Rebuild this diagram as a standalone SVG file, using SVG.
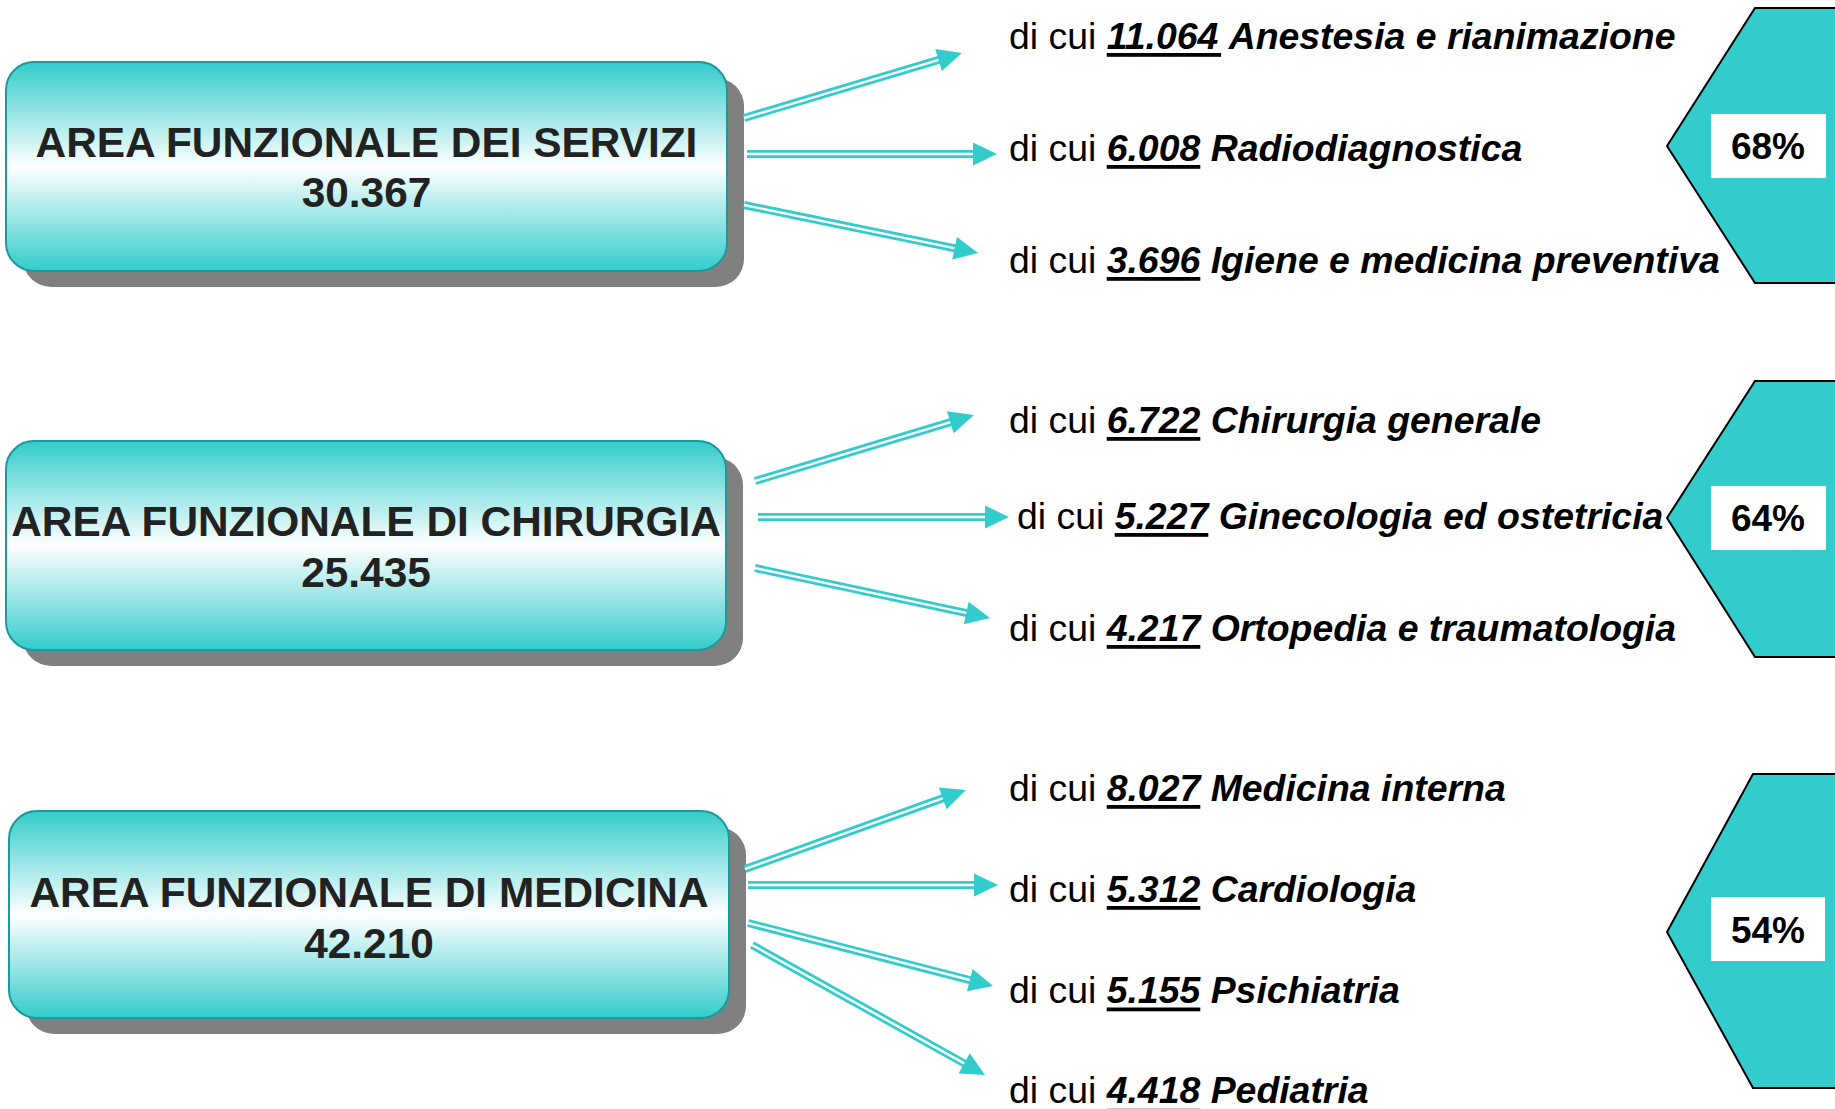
<svg xmlns="http://www.w3.org/2000/svg" width="1835" height="1109" viewBox="0 0 1835 1109">
<defs>
<linearGradient id="g" x1="0" y1="0" x2="0" y2="1">
<stop offset="0" stop-color="#33CCCC"/>
<stop offset="0.5" stop-color="#ffffff"/>
<stop offset="1" stop-color="#33CCCC"/>
</linearGradient>
</defs>
<style>
.sh{fill:#808080}
.bx{fill:url(#g);stroke:#1a9a9a;stroke-width:2}
.t{font-family:"Liberation Sans",Arial,sans-serif;font-weight:bold;font-size:42.4px;fill:#222;text-anchor:middle}
.l{font-family:"Liberation Sans",Arial,sans-serif;font-size:37.4px;fill:#000}
.n{font-weight:bold;font-style:italic}
.b{font-weight:bold;font-style:italic}
.u{fill:#000}
.hx{fill:#33CCCC;stroke:#000;stroke-width:2}
.wb{fill:#fff}
.p{font-family:"Liberation Sans",Arial,sans-serif;font-weight:bold;font-size:37px;fill:#000;text-anchor:middle}
.a1{stroke:#33CCCC;stroke-width:8;fill:none}
.a2{stroke:#fff;stroke-width:2.4;fill:none}
.ah{fill:#33CCCC}
</style>
<rect width="1835" height="1109" fill="#fff"/>

<g id="box-servizi">
<rect class="sh" x="23" y="78" width="721" height="209" rx="28"/>
<rect class="bx" x="6" y="62" width="721" height="209" rx="28"/>
<text class="t" x="366.5" y="157">AREA FUNZIONALE DEI SERVIZI</text>
<text class="t" x="366.5" y="207">30.367</text>
</g>
<g id="box-chirurgia">
<rect class="sh" x="23" y="457" width="720" height="209" rx="28"/>
<rect class="bx" x="6" y="441" width="720" height="209" rx="28"/>
<text class="t" x="366" y="536">AREA FUNZIONALE DI CHIRURGIA</text>
<text class="t" x="366" y="587">25.435</text>
</g>
<g id="box-medicina">
<rect class="sh" x="26" y="827" width="720" height="207" rx="28"/>
<rect class="bx" x="9" y="811" width="720" height="207" rx="28"/>
<text class="t" x="369" y="907">AREA FUNZIONALE DI MEDICINA</text>
<text class="t" x="369" y="958">42.210</text>
</g>

<g id="connectors">
<g transform="translate(744,118) rotate(-16.6)"><path class="a1" d="M0 0H205"/><path class="a2" d="M0 0H205"/><polygon class="ah" points="203,-11.5 227.5,0 203,11.5"/></g>
<g transform="translate(747,154)"><path class="a1" d="M0 0H228"/><path class="a2" d="M0 0H228"/><polygon class="ah" points="226,-11.5 250,0 226,11.5"/></g>
<g transform="translate(744,205) rotate(11.59)"><path class="a1" d="M0 0H217"/><path class="a2" d="M0 0H217"/><polygon class="ah" points="215,-11.5 239,0 215,11.5"/></g>

<g transform="translate(755,481) rotate(-16.77)"><path class="a1" d="M0 0H206"/><path class="a2" d="M0 0H206"/><polygon class="ah" points="204,-11.5 228.7,0 204,11.5"/></g>
<g transform="translate(758,517)"><path class="a1" d="M0 0H229"/><path class="a2" d="M0 0H229"/><polygon class="ah" points="227,-11.5 251,0 227,11.5"/></g>
<g transform="translate(755,568) rotate(12.01)"><path class="a1" d="M0 0H218"/><path class="a2" d="M0 0H218"/><polygon class="ah" points="216,-11.5 240.3,0 216,11.5"/></g>

<g transform="translate(745,869) rotate(-19.67)"><path class="a1" d="M0 0H212"/><path class="a2" d="M0 0H212"/><polygon class="ah" points="210,-11.5 234.7,0 210,11.5"/></g>
<g transform="translate(748,885)"><path class="a1" d="M0 0H228"/><path class="a2" d="M0 0H228"/><polygon class="ah" points="226,-11.5 250,0 226,11.5"/></g>
<g transform="translate(748,923) rotate(14.42)"><path class="a1" d="M0 0H231"/><path class="a2" d="M0 0H231"/><polygon class="ah" points="229,-11.5 253,0 229,11.5"/></g>
<g transform="translate(752,945) rotate(29.16)"><path class="a1" d="M0 0H245"/><path class="a2" d="M0 0H245"/><polygon class="ah" points="243,-11.5 266.8,0 243,11.5"/></g>
</g>

<g id="labels-servizi">
<text class="l" x="1009" y="49">di cui <tspan class="n">11.064</tspan> <tspan class="b">Anestesia e rianimazione</tspan></text>
<rect class="u" x="1106.7" y="53" width="114.4" height="3.8"/>
<text class="l" x="1009" y="161">di cui <tspan class="n">6.008</tspan> <tspan class="b">Radiodiagnostica</tspan></text>
<rect class="u" x="1106.7" y="165" width="93.6" height="3.8"/>
<text class="l" x="1009" y="273">di cui <tspan class="n">3.696</tspan> <tspan class="b">Igiene e medicina preventiva</tspan></text>
<rect class="u" x="1106.7" y="277" width="93.6" height="3.8"/>
</g>
<g id="labels-chirurgia">
<text class="l" x="1009" y="433">di cui <tspan class="n">6.722</tspan> <tspan class="b">Chirurgia generale</tspan></text>
<rect class="u" x="1106.7" y="437" width="93.6" height="3.8"/>
<text class="l" x="1017" y="529">di cui <tspan class="n">5.227</tspan> <tspan class="b">Ginecologia ed ostetricia</tspan></text>
<rect class="u" x="1114.7" y="533" width="93.6" height="3.8"/>
<text class="l" x="1009" y="641">di cui <tspan class="n">4.217</tspan> <tspan class="b">Ortopedia e traumatologia</tspan></text>
<rect class="u" x="1106.7" y="645" width="93.6" height="3.8"/>
</g>
<g id="labels-medicina">
<text class="l" x="1009" y="801">di cui <tspan class="n">8.027</tspan> <tspan class="b">Medicina interna</tspan></text>
<rect class="u" x="1106.7" y="805" width="93.6" height="3.8"/>
<text class="l" x="1009" y="902">di cui <tspan class="n">5.312</tspan> <tspan class="b">Cardiologia</tspan></text>
<rect class="u" x="1106.7" y="906" width="93.6" height="3.8"/>
<text class="l" x="1009" y="1003">di cui <tspan class="n">5.155</tspan> <tspan class="b">Psichiatria</tspan></text>
<rect class="u" x="1106.7" y="1007.5" width="93.6" height="3.8"/>
<text class="l" x="1009" y="1103">di cui <tspan class="n">4.418</tspan> <tspan class="b">Pediatria</tspan></text>
<rect class="u" x="1106.7" y="1108" width="93.6" height="1" fill-opacity="0.2"/>
</g>

<g id="hex-68">
<polygon class="hx" points="1840,8 1755,8 1667,146 1755,283 1840,283"/>
<rect class="wb" x="1711" y="114" width="115" height="64"/>
<text class="p" x="1768" y="159">68%</text>
</g>
<g id="hex-64">
<polygon class="hx" points="1840,381 1755,381 1667,518 1755,657 1840,657"/>
<rect class="wb" x="1711" y="486" width="115" height="64"/>
<text class="p" x="1768" y="531">64%</text>
</g>
<g id="hex-54">
<polygon class="hx" points="1840,774 1753,774 1667,932 1753,1088 1840,1088"/>
<rect class="wb" x="1711" y="897" width="114" height="64"/>
<text class="p" x="1768" y="943">54%</text>
</g>
</svg>
